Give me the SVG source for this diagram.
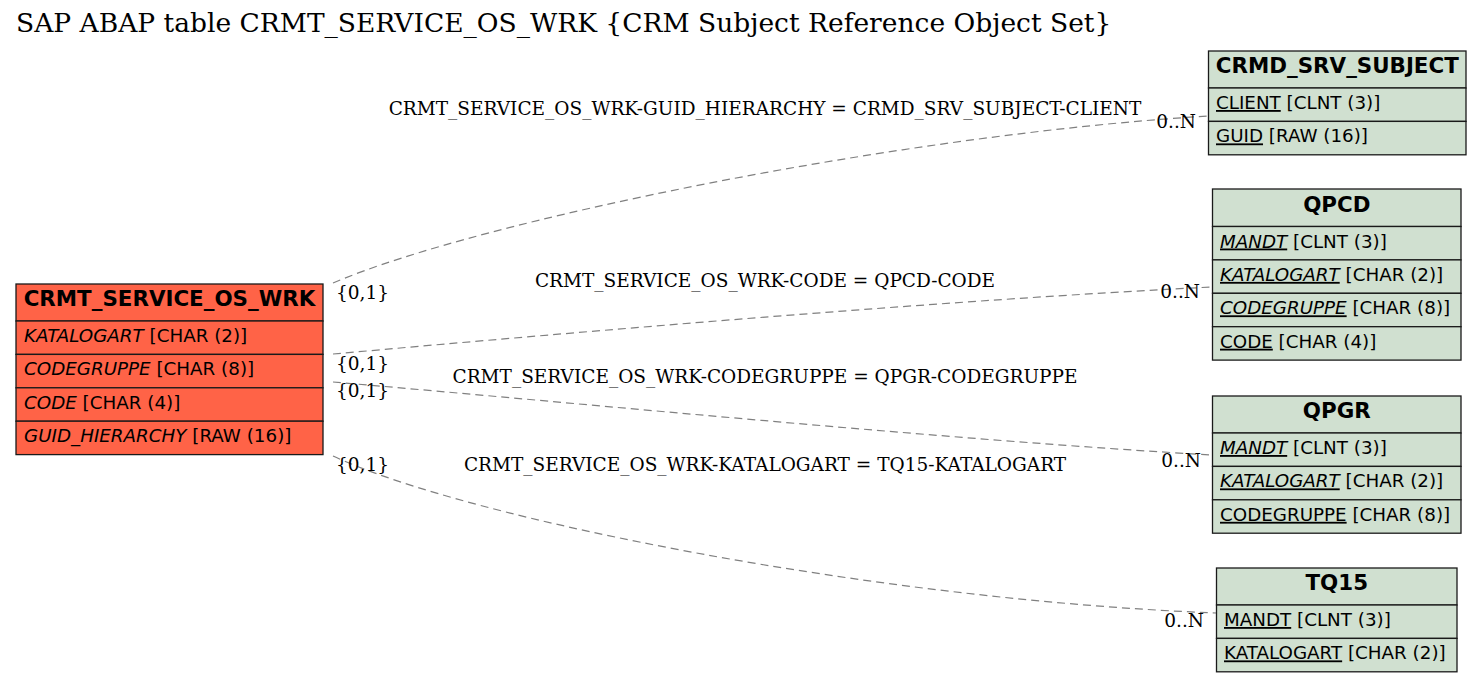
<svg xmlns="http://www.w3.org/2000/svg" width="1481" height="683" viewBox="0 0 1481 683">
<style>
.main rect{fill:#ff6347;stroke:#1a1a1a;stroke-width:1.3}
.ref rect{fill:#d0e0d0;stroke:#1a1a1a;stroke-width:1.3}
.hd{font-family:"DejaVu Sans",sans-serif;font-weight:bold;font-size:21.4px;text-anchor:middle;fill:#000}
.fd{font-family:"DejaVu Sans",sans-serif;font-size:18.3px;fill:#000}
.it{font-style:italic}
.ul{text-decoration:underline}
.lbl{font-family:"DejaVu Serif",serif;font-size:18.5px;fill:#000}
.edge path{fill:none;stroke:#808080;stroke-width:1.2;stroke-dasharray:8,5}
</style>
<rect width="1481" height="683" fill="#fff"/>
<text x="16" y="32" style="font-family:'DejaVu Serif',serif;font-size:26.5px">SAP ABAP table CRMT_SERVICE_OS_WRK {CRM Subject Reference Object Set}</text>

<g id="connectors" class="edge">
<path d="M333,283 C480,220 900,135 1208,116"/>
<path d="M333,354 C600,330 950,300 1212,287"/>
<path d="M333,382 C600,405 950,440 1212,455"/>
<path d="M333,456 C470,520 880,600 1216,613"/>
</g>
<g id="labels" class="lbl">
<text x="765" y="115" text-anchor="middle">CRMT_SERVICE_OS_WRK-GUID_HIERARCHY = CRMD_SRV_SUBJECT-CLIENT</text>
<text x="765" y="287" text-anchor="middle">CRMT_SERVICE_OS_WRK-CODE = QPCD-CODE</text>
<text x="765" y="383" text-anchor="middle">CRMT_SERVICE_OS_WRK-CODEGRUPPE = QPGR-CODEGRUPPE</text>
<text x="765" y="471" text-anchor="middle">CRMT_SERVICE_OS_WRK-KATALOGART = TQ15-KATALOGART</text>
<text x="336" y="299">{0,1}</text>
<text x="336" y="370">{0,1}</text>
<text x="336" y="397">{0,1}</text>
<text x="336" y="471">{0,1}</text>
<text x="1196" y="128" text-anchor="end">0..N</text>
<text x="1200" y="298" text-anchor="end">0..N</text>
<text x="1201" y="467" text-anchor="end">0..N</text>
<text x="1204" y="627" text-anchor="end">0..N</text>
</g>

<g id="CRMT_SERVICE_OS_WRK" class="main">
<rect x="16" y="284" width="307" height="37"/>
<rect x="16" y="321" width="307" height="33.4"/>
<rect x="16" y="354.4" width="307" height="33.4"/>
<rect x="16" y="387.8" width="307" height="33.4"/>
<rect x="16" y="421.2" width="307" height="33.4"/>
<text class="hd" x="169.5" y="306">CRMT_SERVICE_OS_WRK</text>
<text class="fd" x="24" y="342"><tspan class="it">KATALOGART</tspan> [CHAR (2)]</text>
<text class="fd" x="24" y="375.4"><tspan class="it">CODEGRUPPE</tspan> [CHAR (8)]</text>
<text class="fd" x="24" y="408.8"><tspan class="it">CODE</tspan> [CHAR (4)]</text>
<text class="fd" x="24" y="442.2"><tspan class="it">GUID_HIERARCHY</tspan> [RAW (16)]</text>
</g>

<g id="CRMD_SRV_SUBJECT" class="ref">
<rect x="1208.5" y="51" width="257.5" height="37"/>
<rect x="1208.5" y="88" width="257.5" height="33.4"/>
<rect x="1208.5" y="121.4" width="257.5" height="33.4"/>
<text class="hd" x="1337.3" y="73">CRMD_SRV_SUBJECT</text>
<text class="fd" x="1216" y="109"><tspan class="ul">CLIENT</tspan> [CLNT (3)]</text>
<text class="fd" x="1216" y="142.4"><tspan class="ul">GUID</tspan> [RAW (16)]</text>
</g>

<g id="QPCD" class="ref">
<rect x="1212.5" y="189" width="248.5" height="37.5"/>
<rect x="1212.5" y="226.5" width="248.5" height="33.4"/>
<rect x="1212.5" y="259.9" width="248.5" height="33.4"/>
<rect x="1212.5" y="293.3" width="248.5" height="33.4"/>
<rect x="1212.5" y="326.7" width="248.5" height="33.4"/>
<text class="hd" x="1336.8" y="211.5">QPCD</text>
<text class="fd" x="1220" y="247.5"><tspan class="it ul">MANDT</tspan> [CLNT (3)]</text>
<text class="fd" x="1220" y="280.9"><tspan class="it ul">KATALOGART</tspan> [CHAR (2)]</text>
<text class="fd" x="1220" y="314.3"><tspan class="it ul">CODEGRUPPE</tspan> [CHAR (8)]</text>
<text class="fd" x="1220" y="347.7"><tspan class="ul">CODE</tspan> [CHAR (4)]</text>
</g>

<g id="QPGR" class="ref">
<rect x="1212.5" y="396" width="248.5" height="37"/>
<rect x="1212.5" y="433" width="248.5" height="33.4"/>
<rect x="1212.5" y="466.4" width="248.5" height="33.4"/>
<rect x="1212.5" y="499.8" width="248.5" height="33.4"/>
<text class="hd" x="1336.8" y="418">QPGR</text>
<text class="fd" x="1220" y="454"><tspan class="it ul">MANDT</tspan> [CLNT (3)]</text>
<text class="fd" x="1220" y="487.4"><tspan class="it ul">KATALOGART</tspan> [CHAR (2)]</text>
<text class="fd" x="1220" y="520.8"><tspan class="ul">CODEGRUPPE</tspan> [CHAR (8)]</text>
</g>

<g id="TQ15" class="ref">
<rect x="1216.5" y="568" width="240.5" height="37"/>
<rect x="1216.5" y="605" width="240.5" height="33.4"/>
<rect x="1216.5" y="638.4" width="240.5" height="33.4"/>
<text class="hd" x="1336.8" y="590">TQ15</text>
<text class="fd" x="1224" y="626"><tspan class="ul">MANDT</tspan> [CLNT (3)]</text>
<text class="fd" x="1224" y="659.4"><tspan class="ul">KATALOGART</tspan> [CHAR (2)]</text>
</g>
</svg>
